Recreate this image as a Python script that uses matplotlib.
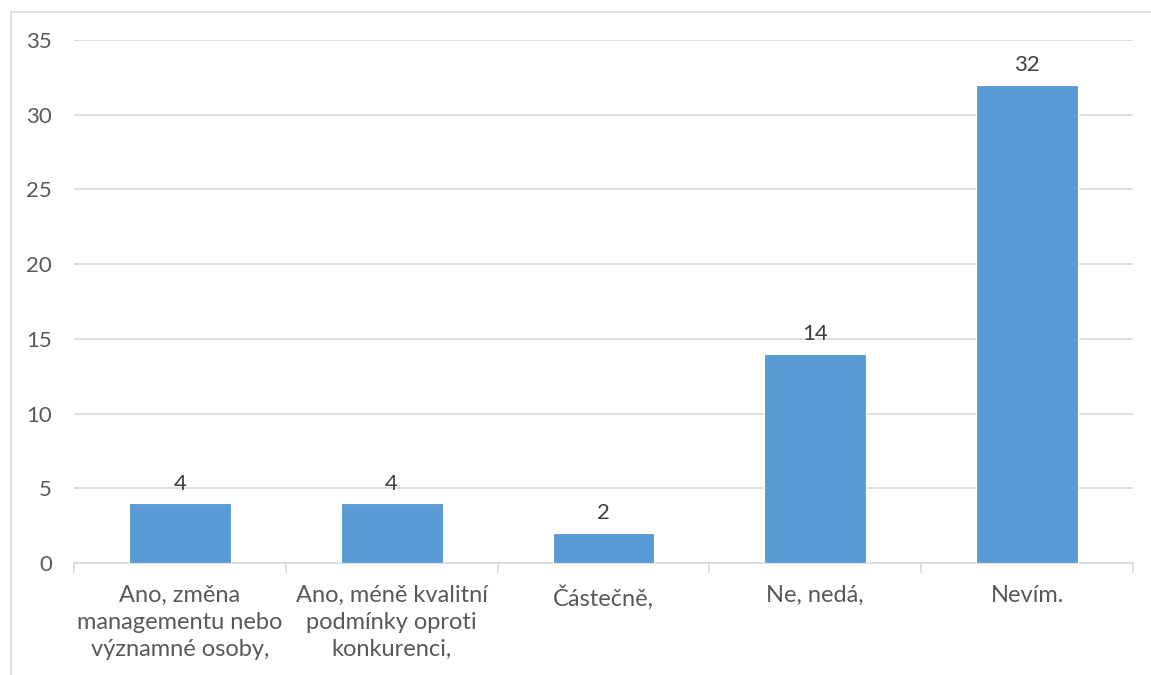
import matplotlib

matplotlib.use("Agg")
import matplotlib.pyplot as plt
from matplotlib.patches import Rectangle

categories = [
    "Ano, změna\nmanagementu nebo\nvýznamné osoby,",
    "Ano, méně kvalitní\npodmínky oproti\nkonkurenci,",
    "Částečně,",
    "Ne, nedá,",
    "Nevím.",
]
counts = [4, 4, 2, 14, 32]
yticks = [0, 5, 10, 15, 20, 25, 30, 35]

BAR = "#5B9BD5"
GRID = "#D9D9D9"
TEXT = "#595959"

plt.rcParams["font.family"] = ["Lato", "DejaVu Sans"]

W, H = 1151, 675
fig = plt.figure(figsize=(W / 100, H / 100), dpi=100)
# chart area frame, running off the right and bottom of the image
fig.patches.append(Rectangle((11 / W, -0.1), 1.2, 1 - 12 / H + 0.1, transform=fig.transFigure,
                             fill=False, edgecolor=GRID, lw=1.2))
ax = fig.add_axes([74 / W, 1 - 563 / H, (1133 - 74) / W, (563 - 40) / H])

x = range(len(categories))
bars = ax.bar(x, counts, width=0.48, color=BAR, edgecolor="white", lw=0.8, zorder=3)
for b, v in zip(bars, counts):
    ax.annotate(f"{v}", (b.get_x() + b.get_width() / 2, v), xytext=(0, 7), textcoords="offset points",
                ha="center", va="bottom", fontsize=16, color="#404040")

ax.set_xlim(-0.5, len(categories) - 0.5)
ax.set_ylim(0, 35)
ax.set_yticks(yticks)
ax.yaxis.grid(True, color=GRID, lw=1.2)
ax.set_axisbelow(True)
ax.tick_params(axis="y", length=0, pad=16, labelsize=16, labelcolor=TEXT)

ax.set_xticks([i + 0.5 for i in range(-1, len(categories))], minor=False)
ax.set_xticklabels([])
ax.tick_params(axis="x", which="major", length=7, color=GRID, width=1.2, direction="out")
ax.set_xticks(list(x), minor=True)
ax.set_xticklabels(categories, minor=True, fontsize=17, color=TEXT, linespacing=1.35)
ax.tick_params(axis="x", which="minor", length=0, pad=16)
for t in ax.get_xticklabels(minor=True):
    t.set_verticalalignment("top")

for s in ("top", "right", "left"):
    ax.spines[s].set_visible(False)
ax.spines["bottom"].set_color(GRID)
ax.spines["bottom"].set_linewidth(1.2)

fig.savefig("out.png", dpi=100)
